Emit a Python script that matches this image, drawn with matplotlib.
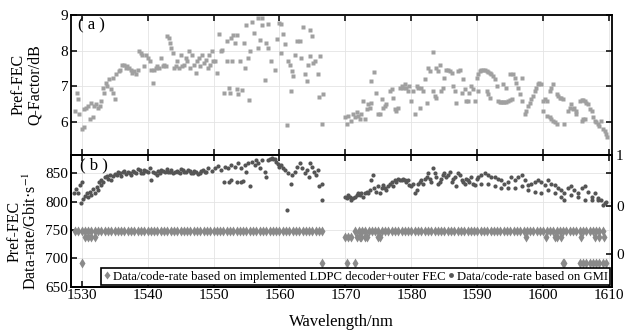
import matplotlib
matplotlib.use("Agg")
import matplotlib.pyplot as plt

plt.rcParams['font.family'] = ['Liberation Serif', 'DejaVu Serif']
plt.rcParams['mathtext.fontset'] = 'stix'

# ---- (a) pre-FEC Q-factor ----
q_wl = [1529.3, 1529.5, 1529.0, 1529.6, 1530.3, 1530.0, 1530.4, 1530.7, 1531.0, 1531.3,
        1531.4, 1531.7, 1531.9, 1532.2, 1532.5, 1532.8, 1532.9, 1533.3, 1533.4, 1533.7,
        1533.9, 1534.2, 1534.4, 1534.7, 1534.8, 1535.1, 1535.2, 1535.6, 1535.8, 1536.1,
        1536.4, 1536.7, 1536.9, 1537.2, 1537.5, 1537.7, 1538.0, 1538.2, 1538.5, 1538.7,
        1539.0, 1539.2, 1539.4, 1539.8, 1540.0, 1540.3, 1540.5, 1540.8, 1541.0, 1541.3,
        1541.5, 1541.8, 1542.0, 1542.3, 1542.5, 1542.8, 1543.0, 1543.2, 1543.4, 1543.6,
        1543.8, 1544.0, 1544.3, 1544.5, 1544.8, 1545.1, 1545.3, 1545.5, 1545.8, 1546.0,
        1546.3, 1546.5, 1546.8, 1547.0, 1547.3, 1547.5, 1547.8, 1548.0, 1548.3, 1548.6,
        1548.9, 1549.2,
        1549.3, 1549.4, 1549.7, 1549.9, 1550.2, 1550.5, 1550.8, 1551.1, 1551.3, 1551.6,
        1552.0, 1552.1, 1552.3, 1552.5, 1552.6, 1552.8, 1553.0, 1553.2, 1553.5, 1553.6,
        1553.7, 1554.0, 1554.3, 1554.6, 1554.8, 1555.0, 1555.3, 1555.4, 1555.5, 1555.8,
        1556.2, 1556.7, 1556.8, 1557.0, 1557.3, 1557.4, 1557.8, 1558.0, 1558.2, 1558.3,
        1558.7, 1559.3, 1559.7, 1559.9, 1560.2, 1560.3, 1560.6, 1560.8, 1561.1, 1561.3,
        1561.6, 1561.7, 1561.9, 1562.1, 1562.4, 1562.6, 1563.1, 1563.3, 1563.5, 1563.8,
        1564.1, 1564.3, 1564.6, 1564.7, 1564.9, 1565.1, 1565.4, 1565.8, 1566.0, 1566.1,
        1566.4, 1566.6,
        1569.9, 1570.2, 1570.4, 1570.9, 1571.2, 1571.4, 1571.7, 1571.9, 1572.2, 1572.4,
        1572.7, 1572.9, 1573.2, 1573.4, 1573.7, 1573.9, 1573.9, 1574.3, 1574.7, 1575.0,
        1575.2, 1575.5, 1575.7, 1576.0, 1576.2, 1576.7, 1577.0, 1577.2, 1577.5, 1577.7,
        1578.0, 1578.2, 1578.5, 1578.7, 1579.0, 1579.2, 1579.5, 1579.7, 1580.0, 1580.3,
        1580.5, 1580.8, 1581.0, 1581.3, 1581.5, 1581.8, 1582.0, 1582.3, 1582.5, 1582.8,
        1583.2, 1583.3, 1583.5, 1583.8, 1583.8, 1584.0, 1584.3, 1584.5, 1584.8, 1585.0,
        1585.3, 1585.6, 1585.8, 1586.1, 1586.3, 1586.6, 1586.8, 1587.1, 1587.3, 1587.6,
        1587.8, 1588.1, 1588.3, 1588.6, 1588.8, 1589.1, 1589.3, 1589.6, 1589.9, 1590.1,
        1590.1, 1590.4, 1590.6, 1590.9, 1591.1, 1591.4, 1591.6, 1591.9, 1592.1, 1592.4,
        1591.4, 1591.6, 1591.9, 1592.6, 1592.9, 1593.1, 1593.4, 1593.6, 1593.9, 1594.1,
        1594.4, 1594.6, 1594.9, 1595.2, 1593.9, 1594.4, 1594.9, 1595.4, 1595.7, 1595.9,
        1596.2, 1596.4, 1596.7, 1596.7, 1597.2, 1597.4, 1597.7, 1597.9, 1598.2, 1598.4,
        1598.7, 1598.9, 1599.2, 1599.4, 1599.7, 1599.9, 1600.2, 1600.5, 1599.9, 1600.5,
        1601.0, 1601.2, 1601.5, 1601.7, 1602.0, 1601.0, 1601.2, 1601.5, 1602.0, 1602.2,
        1602.5, 1602.7, 1603.0, 1603.2, 1603.7, 1604.0, 1604.2, 1604.5, 1604.7, 1605.0,
        1605.0, 1605.5, 1605.8, 1606.0, 1606.3, 1606.5, 1606.8, 1605.8, 1606.0, 1606.3,
        1607.0, 1607.3, 1607.5, 1607.8, 1608.0, 1608.3, 1608.5, 1608.8, 1609.0, 1609.3,
        1609.5, 1609.7]
q_db = [6.83, 6.65, 6.32, 6.23, 6.37, 5.82, 5.86, 6.41, 6.46, 6.09,
        6.55, 6.14, 6.46, 6.51, 6.41, 6.46, 6.60, 6.97, 6.83, 7.11,
        7.01, 7.20, 6.92, 7.24, 6.83, 6.65, 7.34, 7.43, 7.47, 7.61,
        7.61, 7.52, 7.57, 7.52, 7.47, 7.38, 7.43, 7.34, 7.47, 7.98,
        7.94, 7.89, 7.57, 7.89, 7.80, 7.70, 7.47, 7.11, 7.47, 7.52,
        7.57, 7.52, 7.80, 7.57, 7.61, 7.57, 8.40, 8.35, 8.21, 8.07,
        7.94, 7.52, 7.57, 7.70, 7.52, 7.89, 7.57, 7.61, 7.80, 7.70,
        7.98, 7.52, 7.89, 7.61, 7.38, 7.70, 7.80, 7.57, 7.89, 7.66,
        7.75, 7.52,
        7.89, 7.61, 7.98, 7.70, 7.70, 7.38, 8.46, 7.98, 8.03, 6.83,
        7.70, 8.26, 6.95, 6.83, 8.35, 7.70, 8.44, 8.21, 8.44, 6.92,
        6.80, 7.70, 6.89, 8.21, 7.52, 8.72, 7.80, 6.62, 7.98, 8.81,
        8.49, 8.92, 8.07, 8.30, 8.72, 8.92, 7.17, 8.21, 8.07, 8.74,
        7.70, 7.45, 8.33, 8.76, 8.74, 7.94, 8.46, 8.17, 5.93, 7.70,
        7.61, 6.88, 7.43, 7.29, 7.89, 8.26, 8.26, 7.80, 8.67, 7.34,
        7.15, 7.61, 7.84, 8.58, 8.40, 7.66, 7.70, 7.34, 6.71, 7.84,
        5.95, 6.78,
        6.14, 5.95, 6.19, 6.05, 6.23, 6.14, 6.28, 6.19, 6.09, 6.23,
        6.60, 6.09, 6.37, 6.51, 6.41, 6.55, 7.15, 7.41, 6.83, 6.23,
        6.23, 6.64, 6.41, 6.46, 6.51, 6.88, 6.92, 6.69, 6.37, 6.32,
        6.41, 6.97, 7.01, 6.97, 7.06, 6.97, 6.88, 7.01, 6.60, 6.88,
        6.23, 7.01, 6.97, 6.41, 6.97, 6.88, 7.20, 6.55, 7.52, 7.43,
        7.96, 6.88, 6.74, 6.69, 7.52, 7.43, 7.61, 6.88, 6.97, 7.24,
        7.47, 7.47, 7.43, 7.38, 7.01, 6.88, 6.55, 7.43, 7.47, 6.83,
        7.20, 6.92, 6.60, 6.60, 6.83, 7.01, 6.92, 6.60, 7.24, 7.34,
        6.88, 7.43, 7.47, 7.47, 7.45, 7.43, 7.40, 7.38, 7.34, 7.29,
        6.88, 6.78, 6.67, 7.20, 7.01, 6.60, 6.58, 6.57, 6.58, 6.58,
        6.58, 6.60, 6.62, 6.65, 7.06, 6.97, 7.34, 7.34, 7.24, 7.11,
        6.97, 6.78, 7.24, 6.60, 6.23, 6.32, 6.46, 6.55, 6.65, 6.74,
        6.88, 6.97, 7.06, 7.11, 7.06, 6.60, 6.65, 6.60, 6.32, 6.18,
        6.14, 6.09, 6.05, 6.00, 5.96, 6.88, 6.97, 7.06, 6.78, 6.74,
        6.69, 6.69, 6.65, 5.96, 6.32, 6.41, 6.51, 6.37, 6.41, 6.32,
        6.23, 6.60, 6.62, 6.62, 6.60, 6.55, 6.51, 6.05, 6.09, 6.09,
        6.37, 6.32, 6.14, 6.05, 6.00, 5.96, 5.91, 6.05, 5.82, 5.77,
        5.68, 5.60]

# ---- (b) data rate based on GMI ----
gmi_wl = [1528.8, 1529.1, 1529.5, 1529.7, 1530.0, 1529.9, 1530.2, 1530.5, 1530.8, 1531.0,
          1531.3, 1531.5, 1531.8, 1532.0, 1532.3, 1532.5, 1532.7, 1532.9, 1533.0, 1533.3,
          1533.5, 1533.8, 1534.0, 1534.3, 1534.5, 1534.8, 1535.0, 1535.3, 1535.5, 1535.8,
          1536.0, 1536.3, 1536.5, 1536.8, 1537.0, 1537.3, 1537.5, 1537.8, 1538.0, 1538.3,
          1538.5, 1538.8, 1539.0, 1539.3, 1539.5, 1539.8, 1540.1, 1540.4, 1540.6, 1540.9,
          1541.1, 1541.4, 1541.6, 1541.9, 1542.1, 1542.4, 1542.6, 1542.9, 1543.1, 1543.4,
          1543.6, 1543.9, 1544.1, 1544.4, 1544.6, 1544.9, 1545.1, 1545.4, 1545.6, 1545.9,
          1546.1, 1546.4, 1546.6, 1546.9, 1547.1, 1547.4, 1547.6, 1547.9, 1548.1, 1548.4,
          1548.7, 1548.9,
          1549.2, 1549.7, 1550.2, 1550.7, 1551.2, 1551.7, 1551.6, 1552.3, 1552.7, 1553.6,
          1554.1, 1554.5, 1555.5, 1552.2, 1552.7, 1553.2, 1553.7, 1554.2, 1554.7, 1555.0,
          1555.3, 1555.8, 1556.3, 1556.5, 1556.8, 1557.0, 1557.3, 1557.8, 1557.9, 1558.3,
          1558.5, 1558.8, 1559.0, 1559.3, 1559.5, 1559.8, 1560.0, 1560.3, 1560.5, 1560.8,
          1561.1, 1561.3, 1561.7, 1561.9, 1562.3, 1562.7, 1563.1, 1563.4, 1563.8, 1564.1,
          1564.4, 1564.7, 1564.9, 1565.2, 1565.6, 1565.9, 1566.0, 1566.4, 1566.4,
          1569.9, 1570.2, 1570.4, 1570.7, 1570.9, 1571.2, 1571.4, 1571.7, 1571.9, 1572.2,
          1572.4, 1572.7, 1572.9, 1573.2, 1573.4, 1573.7, 1573.9, 1574.2, 1574.4, 1574.7,
          1575.0, 1575.2, 1575.5, 1575.7, 1576.0, 1576.2, 1576.5, 1576.7, 1577.0, 1577.2,
          1577.5, 1577.7, 1578.0, 1578.2, 1578.5, 1578.7, 1579.0, 1579.2, 1579.5, 1579.7,
          1580.0, 1580.3, 1580.5, 1580.8, 1581.0, 1581.3, 1581.5, 1581.8, 1582.0, 1582.3,
          1582.5, 1582.8, 1583.0, 1583.3, 1583.5, 1583.8, 1584.0, 1584.3, 1584.5, 1584.8,
          1585.0, 1585.3, 1585.6, 1585.8, 1586.1, 1586.3, 1586.6, 1586.8, 1587.1, 1587.3,
          1587.6, 1587.8, 1588.1, 1588.3, 1588.6, 1588.8, 1589.1, 1589.3, 1589.6, 1589.9,
          1590.1, 1590.6, 1591.1, 1591.6, 1592.1, 1592.6, 1593.1, 1593.6, 1594.1, 1594.6,
          1595.1, 1595.7, 1596.2, 1596.7, 1597.2, 1597.7, 1598.2, 1598.7, 1599.2, 1599.7,
          1600.2, 1600.7, 1601.2, 1601.7, 1602.2, 1602.7, 1603.2, 1603.7, 1604.2, 1604.7,
          1605.3, 1605.8, 1606.3, 1606.8, 1607.3, 1607.8, 1608.3, 1608.8, 1609.3, 1609.5,
          1590.6, 1591.6, 1592.6, 1593.6, 1594.6, 1595.7, 1596.7, 1597.7, 1598.7, 1599.7,
          1600.7, 1601.7, 1602.7, 1603.2, 1604.2, 1605.3, 1606.3, 1607.3, 1608.3, 1609.0]
gmi_rate = [815, 822, 816, 829, 835, 797, 804, 810, 816, 809,
            818, 812, 822, 816, 826, 821, 835, 829, 839, 835,
            843, 845, 841, 847, 838, 845, 849, 847, 852, 850,
            846, 853, 855, 849, 853, 851, 848, 855, 852, 851,
            857, 856, 851, 850, 856, 855, 852, 859, 838, 853,
            850, 847, 855, 851, 856, 855, 852, 857, 853, 853,
            856, 850, 852, 855, 852, 851, 857, 856, 852, 852,
            856, 855, 851, 850, 855, 853, 849, 851, 855, 856,
            853, 852,
            859, 855, 859, 863, 856, 862, 834, 835, 838, 835,
            834, 837, 827, 859, 865, 862, 868, 859, 865, 853,
            868, 870, 865, 873, 868, 859, 873, 853, 844, 873,
            876, 878, 876, 875, 870, 866, 862, 865, 859, 856,
            786, 850, 832, 847, 853, 862, 868, 859, 850, 856,
            844, 868, 862, 853, 847, 856, 827, 832, 803,
            809, 806, 812, 809, 803, 806, 809, 812, 815, 812,
            815, 809, 815, 818, 815, 821, 838, 847, 824, 818,
            827, 815, 824, 829, 824, 821, 827, 832, 835, 827,
            838, 835, 841, 838, 839, 841, 838, 835, 838, 829,
            827, 832, 815, 821, 832, 835, 838, 832, 841, 844,
            850, 841, 835, 859, 850, 844, 832, 835, 841, 847,
            850, 844, 847, 853, 835, 841, 844, 827, 850, 847,
            838, 835, 832, 841, 838, 835, 844, 832, 829, 841,
            844, 847, 850, 847, 844, 844, 841, 838, 832, 835,
            844, 838, 844, 847, 838, 829, 832, 835, 838, 835,
            829, 838, 832, 829, 824, 821, 815, 824, 827, 821,
            815, 824, 827, 818, 809, 815, 806, 803, 797, 800,
            832, 832, 827, 824, 824, 824, 827, 821, 818, 815,
            821, 815, 809, 803, 812, 809, 803, 803, 803, 794]

# ---- (b) data rate based on implemented LDPC decoder + outer FEC ----
ldpc_levels = [748, 738, 692]
ldpc_wl_748 = [1529.0, 1529.5, 1530.0, 1530.5, 1531.0, 1531.5, 1532.0, 1532.5, 1533.0, 1533.5,
               1534.0, 1534.5, 1535.0, 1535.5, 1536.0, 1536.5, 1537.0, 1537.5, 1538.0, 1538.5,
               1539.0, 1539.5, 1540.0, 1540.5, 1541.0, 1541.5, 1542.0, 1542.5, 1543.0, 1543.5,
               1544.0, 1544.5, 1545.0, 1545.5, 1546.0, 1546.5, 1547.0, 1547.5, 1548.0, 1548.5,
               1549.0, 1549.5, 1550.0, 1550.5, 1551.0, 1551.5, 1552.0, 1552.5, 1553.0, 1553.5,
               1554.0, 1554.5, 1555.0, 1555.5, 1556.0, 1556.5, 1557.0, 1557.5, 1558.0, 1558.5,
               1559.0, 1559.5, 1560.0, 1560.5, 1561.0, 1561.5, 1562.0, 1562.5, 1563.0, 1563.5,
               1564.0, 1564.5, 1565.0, 1565.5, 1566.0, 1566.5,
               1571.5, 1572.0, 1572.5, 1573.0, 1573.5, 1574.0, 1574.5, 1575.0, 1575.5, 1576.0,
               1576.5, 1577.0, 1577.5, 1578.0, 1578.5, 1579.0, 1579.5, 1580.0, 1580.5, 1581.0,
               1581.5, 1582.0, 1582.5, 1583.0, 1583.5, 1584.0, 1584.5, 1585.0, 1585.5, 1586.0,
               1586.5, 1587.0, 1587.5, 1588.0, 1588.5, 1589.0, 1589.5, 1590.0, 1590.5, 1591.0,
               1591.5, 1592.0, 1592.5, 1593.0, 1593.5, 1594.0, 1594.5, 1595.0, 1595.5, 1596.0,
               1596.5, 1597.0, 1597.5, 1598.0, 1598.5, 1599.0, 1599.5, 1600.0, 1600.5, 1601.0,
               1601.5, 1602.0, 1602.5, 1603.0, 1603.5, 1604.0, 1604.5, 1605.0, 1605.5, 1606.0,
               1606.5, 1607.0, 1607.5, 1608.0, 1608.5, 1609.0]
ldpc_wl_738 = [1530.5, 1531.0, 1531.5, 1532.0,
               1569.9, 1570.4, 1570.9, 1571.7, 1572.2, 1572.4, 1572.9, 1573.2, 1575.0, 1575.2,
               1597.4, 1600.4, 1601.7, 1602.1, 1602.7, 1605.7, 1607.9, 1608.4, 1609.2]
ldpc_wl_692 = [1530.0, 1566.4, 1570.2, 1571.4, 1603.0, 1603.2, 1605.5, 1606.0, 1606.5,
               1607.0, 1607.5, 1608.0, 1608.5, 1609.0, 1609.5]

x_ticks = [1530, 1540, 1550, 1560, 1570, 1580, 1590, 1600, 1610]
q_ticks = [6, 7, 8, 9]
rate_ticks = [650, 700, 750, 800, 850]

# Setting up figure: two stacked panels
fig = plt.figure(figsize=(6.3, 3.31), dpi=100)
ax_a = fig.add_axes([0.1127, 0.5326, 0.8587, 0.4230])
ax_b = fig.add_axes([0.1127, 0.1338, 0.8587, 0.3988])

for ax in (ax_a, ax_b):
    ax.set_xlim(1528.4, 1610.4)
    ax.set_xticks(x_ticks)
    ax.grid(True, color='#e4e4e4', lw=0.6)
    ax.set_axisbelow(True)
    for s in ax.spines.values():
        s.set_linewidth(1.3)
    ax.tick_params(direction='in', length=4, width=1.1, top=True, labelsize=11, pad=2)

# panel (a)
ax_a.plot(q_wl, q_db, 's', ms=2.7, color='#a0a0a0', mec='none')
ax_a.set_ylim(5.1, 9.0)
ax_a.set_yticks(q_ticks)
ax_a.tick_params(right=True, labelbottom=False)
ax_a.set_ylabel('Pref-FEC\nQ-Factor/dB', fontsize=11.5, linespacing=1.0)
ax_a.yaxis.set_label_coords(-0.052, 0.5)
ax_a.text(0.013, 0.925, '( a )', transform=ax_a.transAxes, fontsize=12, va='center')

# panel (b)
ldpc_style = dict(ls='none', marker='d', ms=5.5, color='#8a8a8a', mec='none')
ax_b.plot(ldpc_wl_748, [ldpc_levels[0]] * len(ldpc_wl_748),
          label='Data/code-rate based on implemented LDPC decoder+outer FEC', **ldpc_style)
ax_b.plot(ldpc_wl_738, [ldpc_levels[1]] * len(ldpc_wl_738), **ldpc_style)
ax_b.plot(ldpc_wl_692, [ldpc_levels[2]] * len(ldpc_wl_692), **ldpc_style)
ax_b.plot(gmi_wl, gmi_rate, 'o', ms=3.0, color='#555555', mec='none',
          label='Data/code-rate based on GMI')
ax_b.set_ylim(650, 883)
ax_b.set_yticks(rate_ticks)
ax_b.tick_params(right=False)
ax_b.set_xlabel('Wavelength/nm', fontsize=12, labelpad=8)
ax_b.set_ylabel('Pref-FEC\nData-rate/Gbit·s$^{-1}$', fontsize=11.5, linespacing=1.0)
ax_b.yaxis.set_label_coords(-0.058, 0.42)
ax_b.text(0.017, 0.922, '( b )', transform=ax_b.transAxes, fontsize=12, va='center')

leg = ax_b.legend(loc='lower right', bbox_to_anchor=(0.997, 0.012), ncol=2,
                  fancybox=False, edgecolor='black', framealpha=1,
                  prop={'family': 'Liberation Serif', 'size': 9.2},
                  handlelength=0.5, handletextpad=0.2, columnspacing=0.2,
                  borderpad=0.2, borderaxespad=0)
leg.get_frame().set_linewidth(1.2)
leg.legend_handles[0].set_markersize(4.5)
leg.legend_handles[1].set_markersize(3.5)

# right-hand scale, cut off by the image edge
ax_r = ax_b.twinx()
ax_r.set_ylim(0, 1)
ax_r.set_yticks([1.0, 0.861, 0.614, 0.248])
ax_r.set_yticklabels(['1', '', '0', '0'])
ax_r.tick_params(direction='in', length=4, width=1.1, labelsize=11, pad=3)
for s in ax_r.spines.values():
    s.set_linewidth(1.3)

fig.savefig('out.png', dpi=100)
